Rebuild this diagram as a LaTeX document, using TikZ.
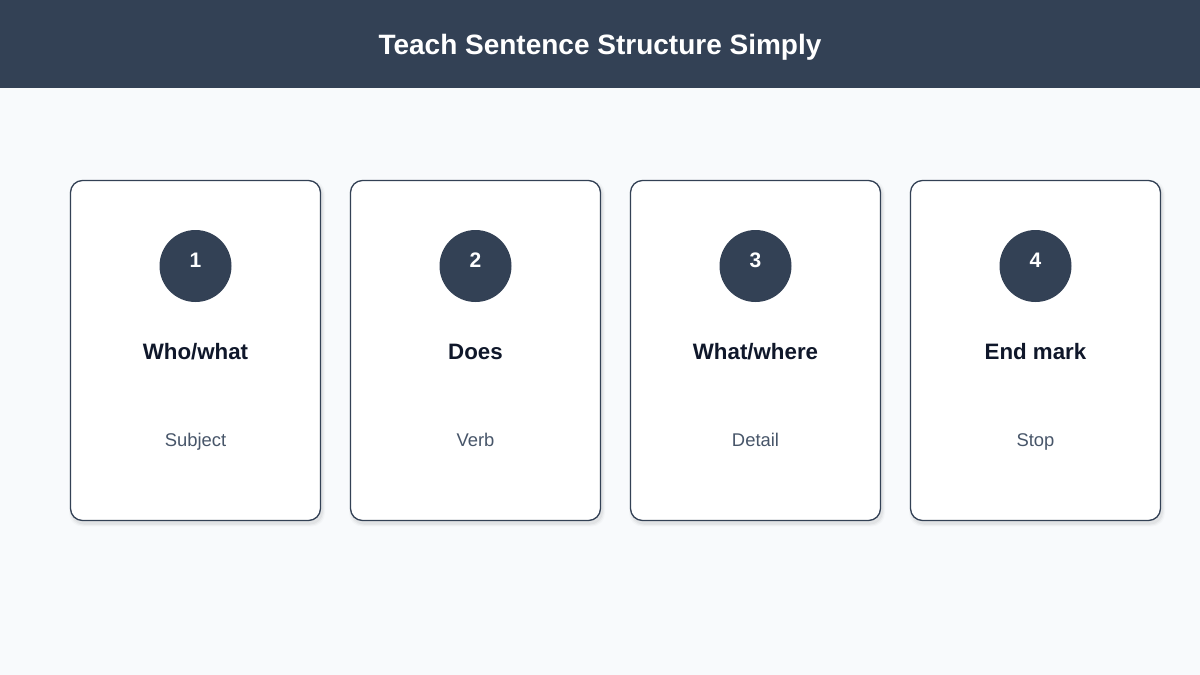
\documentclass[tikz,border=0pt]{standalone}
\usepackage{fontspec}
\setmainfont{Liberation Sans}
\definecolor{hdr}{HTML}{334155}
\definecolor{bg}{HTML}{F8FAFC}
\definecolor{ttl}{HTML}{0F172A}
\definecolor{sub}{HTML}{475569}
\definecolor{cardline}{HTML}{334155}
\begin{document}
\begin{tikzpicture}[x=1pt,y=-1pt,
  card/.style={draw=cardline,line width=1.3pt,fill=white,rounded corners=12pt,minimum width=250pt,minimum height=340pt,inner sep=0pt},
  shadowbox/.style={fill=black,rounded corners=13pt,minimum width=252pt,minimum height=342pt,inner sep=0pt,draw=none},
  badge/.style={circle,fill=hdr,minimum size=72pt,inner sep=0pt},
  num/.style={text=white,font=\fontsize{21}{24}\selectfont\bfseries,inner sep=0pt,anchor=base},
  head/.style={text=ttl,font=\fontsize{22.3}{26}\selectfont\bfseries,inner sep=0pt,anchor=base},
  subt/.style={text=sub,font=\fontsize{18.4}{22}\selectfont,inner sep=0pt,anchor=base}]
\useasboundingbox (0,0) rectangle (1200,675);
\fill[bg] (0,0) rectangle (1200,675);
\fill[hdr] (0,0) rectangle (1200,88);
\node[text=white,font=\fontsize{28}{32}\selectfont\bfseries,inner sep=0pt,anchor=base] (title) at (600,54) {Teach Sentence Structure Simply};
\foreach \i/\cx/\h/\s in {1/195.5/Who\slash what/Subject,2/475.5/Does/Verb,3/755.5/What\slash where/Detail,4/1035.5/End mark/Stop}{
  \foreach \o/\a in {6/0.02,4/0.03,2/0.04}{
    \node[shadowbox,opacity=\a,minimum width=250pt+\o pt,minimum height=340pt+\o pt] at (\cx+1.5,350.5+3) {};
  }
  \node[card] (card\i) at (\cx,350.5) {};
  \node[badge] (badge\i) at (\cx,266) {};
  \node[num] (num\i) at (\cx,267) {\i};
  \node[head] (head\i) at (\cx,359) {\h};
  \node[subt] (sub\i) at (\cx,446) {\s};
}
\end{tikzpicture}
\end{document}
